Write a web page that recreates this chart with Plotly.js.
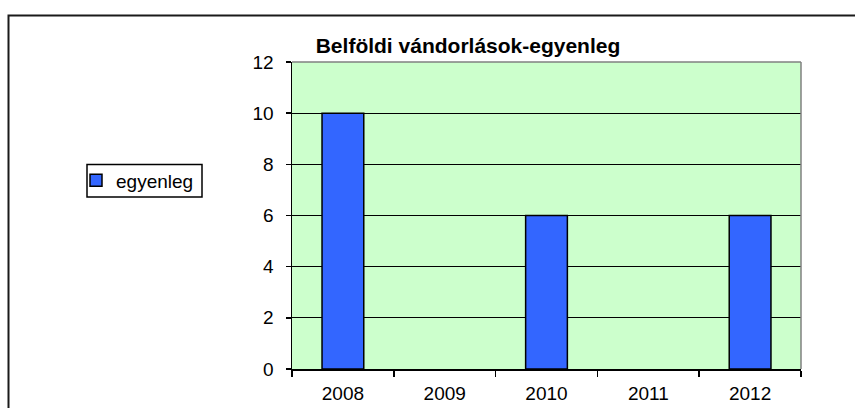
<!DOCTYPE html>
<html>
<head>
<meta charset="utf-8">
<script src="https://cdn.plot.ly/plotly-3.0.1.min.js"></script>
<style>html,body{margin:0;padding:0;background:#fff;}#chart{width:855px;height:408px;}</style>
</head>
<body>
<div id="chart"></div>
<script>
const categories = ['2008', '2009', '2010', '2011', '2012'];
const egyenleg = [10, 0, 6, 0, 6];
const yTicks = [0, 2, 4, 6, 8, 10, 12];
const seriesName = 'egyenleg';
const chartTitle = 'Belföldi vándorlások-egyenleg';

const W = 855, H = 408;
const L = 292, R = 801, T = 62, B = 369;
const pw = R - L, ph = B - T;
const px = x => (x - L) / pw;
const py = y => (B - y) / ph;

const font = 'Liberation Sans, Arial, sans-serif';

const trace = {
  type: 'bar',
  x: categories,
  y: egyenleg,
  name: seriesName,
  showlegend: true,
  marker: {color: '#3366ff', line: {color: '#000000', width: egyenleg.map(v => v === 0 ? 0 : 1.5)}},
  hoverinfo: 'x+y'
};

const layout = {
  width: W, height: H,
  margin: {l: L, r: W - R, t: T, b: H - B, pad: 0},
  paper_bgcolor: '#ffffff',
  plot_bgcolor: '#ccffcc',
  font: {family: font, size: 19, color: '#000'},
  title: {
    text: '<b>' + chartTitle + '</b>',
    font: {family: font, size: 21, color: '#000'},
    xref: 'container', yref: 'container',
    x: 468 / W, xanchor: 'center',
    y: 1 - 46 / H, yanchor: 'middle'
  },
  bargap: 0.59,
  xaxis: {
    type: 'category',
    showgrid: false,
    showline: true, linecolor: '#000', linewidth: 1.5,
    ticks: 'outside', tickson: 'boundaries', ticklen: 6, tickcolor: '#000', tickwidth: 1.5,
    tickfont: {family: font, size: 19, color: '#000'},
    ticklabelstandoff: 7,
    zeroline: false
  },
  yaxis: {
    range: [0, 12],
    tickvals: yTicks,
    ticktext: yTicks.map(String),
    showgrid: true, gridcolor: '#000', gridwidth: 1,
    showline: true, linecolor: '#000', linewidth: 1.5,
    ticks: 'outside', ticklen: 5, tickcolor: '#000', tickwidth: 1.5,
    tickfont: {family: font, size: 19, color: '#000'},
    ticklabelstandoff: 8,
    zeroline: false
  },
  legend: {
    x: px(76), xanchor: 'left',
    y: py(180.5), yanchor: 'middle',
    borderwidth: 0,
    bgcolor: 'rgba(0,0,0,0)',
    font: {family: font, size: 19, color: '#000'},
    itemwidth: 30
  },
  shapes: [
    {type: 'line', xref: 'paper', yref: 'paper', x0: 0, x1: 1, y0: 1, y1: 1,
     line: {color: '#808080', width: 1.5}, layer: 'above'},
    {type: 'line', xref: 'paper', yref: 'paper', x0: 1, x1: 1, y0: 0, y1: 1,
     line: {color: '#808080', width: 1.5}, layer: 'above'},
    {type: 'rect', xref: 'paper', yref: 'paper',
     x0: px(87), x1: px(202), y0: py(197), y1: py(164.5),
     line: {color: '#000', width: 1.5}, layer: 'above'},
    {type: 'rect', xref: 'paper', yref: 'paper',
     x0: px(8.5), x1: px(870), y0: py(420), y1: py(15.5),
     line: {color: '#1a1a1a', width: 2}, layer: 'above'}
  ]
};

Plotly.newPlot('chart', [trace], layout, {staticPlot: true, displayModeBar: false});
</script>
</body>
</html>
